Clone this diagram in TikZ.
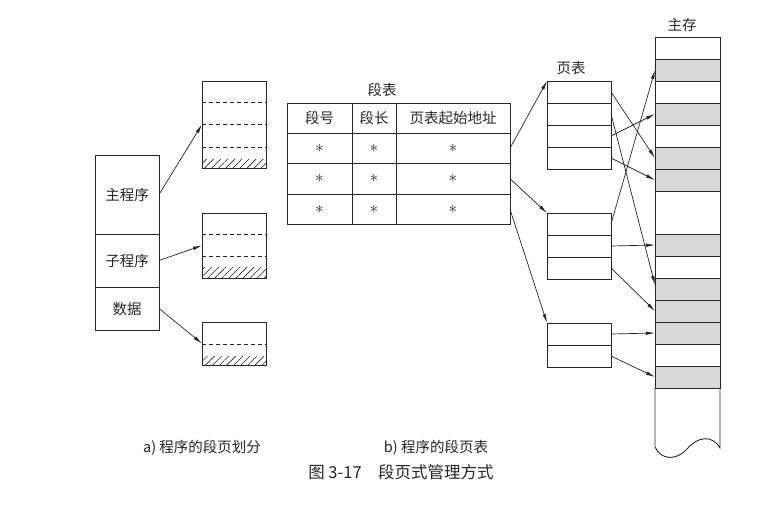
\documentclass[tikz,border=0pt]{standalone}
\usepackage{fontspec}
\newfontfamily\cjk{Noto Sans CJK SC}
\usepackage{tikz}
\usetikzlibrary{positioning,arrows.meta,patterns.meta,calc}
\definecolor{ink1}{HTML}{262626}
\definecolor{shade1}{HTML}{D9D9D9}

\begin{document}
\begin{tikzpicture}[
    x=1pt, y=-1pt,
    cell/.style={draw=ink1, line width=0.9pt, inner sep=0pt, outer sep=0pt,
                 minimum width=64pt, minimum height=22pt},
    lbl/.style={text=ink1, font=\cjk\fontsize{14.5}{16}\selectfont},
    star/.style={text=ink1, font=\fontsize{17}{17}\selectfont},
    arr/.style={-{Latex[length=9pt,width=3.6pt]}, line width=0.7pt, draw=ink1},
    pagedash/.style={draw=ink1, line width=0.8pt, dash pattern=on 4pt off 3pt},
    hatch/.style={pattern={Lines[angle=45,distance=5pt,line width=0.6pt]},
                  pattern color=ink1},
]
\useasboundingbox (0,0) rectangle (784,507);

% program split into segments
\node[cell, minimum height=79pt, lbl] (mainp) at (127,194.5) {主程序};
\node[cell, minimum height=53pt, lbl] (subp) at (127,260.5) {子程序};
\node[cell, minimum height=43pt, lbl] (datap) at (127,308.5) {数据};

\node[cell, minimum height=87pt] (seg1) at (234,124.5) {};
\node[cell, minimum height=65pt] (seg2) at (234,245.5) {};
\node[cell, minimum height=43pt] (seg3) at (234,343.5) {};

\fill[hatch] (seg1.south west) rectangle ($(seg1.south east)+(0,-9)$);
\fill[hatch] (seg2.south west) rectangle ($(seg2.south east)+(0,-11)$);
\fill[hatch] (seg3.south west) rectangle ($(seg3.south east)+(0,-9)$);
\foreach \y in {102,124,147}
    \draw[pagedash] (seg1.west |- 0,\y) -- (seg1.east |- 0,\y);
\foreach \y in {234,256}
    \draw[pagedash] (seg2.west |- 0,\y) -- (seg2.east |- 0,\y);
\draw[pagedash] (seg3.west |- 0,344) -- (seg3.east |- 0,344);

\draw[arr] (mainp.east) -- (seg1.west);
\draw[arr] (subp.east) -- (seg2.west);
\draw[arr] (datap.east) -- (seg3.west);

% segment table
\node[lbl] (segt) at (382,90) {段表};
\foreach \c/\x/\w/\t in {1/319.5/65/段号, 2/374/44/段长, 3/453/114/页表起始地址}{
    \node[cell, lbl, minimum width=\w pt, minimum height=30pt] (h\c) at (\x,118) {\t};
    \foreach \r in {1,2,3}
        \node[cell, star, minimum width=\w pt, minimum height=30.5pt]
            (s\r\c) at (\x,{148.25+30.5*(\r-1)}) {$\ast$};
}

% page tables
\node[lbl] (ptl) at (571,68) {页表};
\foreach \r in {1,...,4}
    \node[cell] (p1\r) at (579,{92+22*(\r-1)}) {};
\foreach \r in {1,2,3}
    \node[cell] (p2\r) at (579,{224+22*(\r-1)}) {};
\foreach \r in {1,2}
    \node[cell] (p3\r) at (579,{334+22*(\r-1)}) {};

\draw[arr] (s13.east) -- (p11.north west);
\draw[arr] (s23.east) -- (p21.north west);
\draw[arr] (s33.east) -- (p31.north west);

% main memory
\node[lbl] (meml) at (682,25) {主存};
\foreach \i/\f in {1/white,2/shade1,3/white,4/shade1,5/white,6/shade1,7/shade1}
    \node[cell, minimum width=65pt, fill=\f] (m\i) at (687.5,{48+22*(\i-1)}) {};
\node[cell, minimum width=65pt, minimum height=43pt] (m8) at (687.5,212.5) {};
\foreach \i/\f in {9/shade1,10/white,11/shade1,12/shade1,13/shade1,14/white,15/shade1}
    \node[cell, minimum width=65pt, fill=\f] (m\i) at (687.5,{245+22*(\i-9)}) {};
\draw[ink1, line width=0.9pt] (m15.south west) -- (655,447)
    .. controls (661,460) and (676,461) .. (687,449)
    .. controls (697,437) and (712,434) .. (720,448) -- (m15.south east);

\draw[arr] (p11.east) -- (m6.west);
\draw[arr] (p12.east) -- ($(m11.west)+(0,-4)$);
\draw[arr] (p13.east) -- (m4.west);
\draw[arr] (p14.east) -- (m7.west);
\draw[arr] (p21.east) -- (m2.west);
\draw[arr] (p22.east) -- (m9.west);
\draw[arr] (p23.east) -- (m12.west);
\draw[arr] (p31.east) -- (m13.west);
\draw[arr] (p32.east) -- (m15.west);

% captions
\node[lbl] (capa) at (202,448) {a) 程序的段页划分};
\node[lbl] (capb) at (436,448) {b) 程序的段页表};
\node[text=ink1, font=\cjk\fontsize{16.5}{18}\selectfont] (fig) at (401,472)
    {图 3-17\quad 段页式管理方式};
\end{tikzpicture}
\end{document}
